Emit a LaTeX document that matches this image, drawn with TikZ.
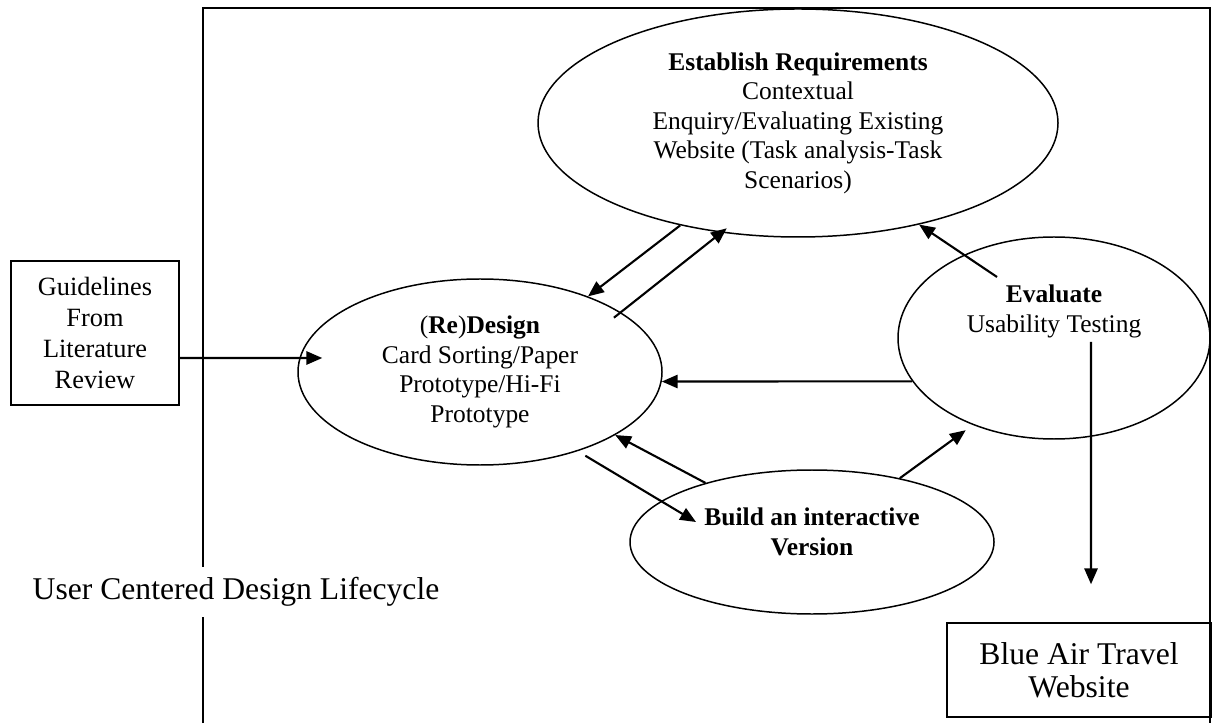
\documentclass[tikz,border=0pt]{standalone}
\usepackage{fontspec}
\setmainfont{Liberation Serif}
\usetikzlibrary{arrows.meta,positioning,calc,shapes.geometric}
\tikzset{
  stage/.style={draw,ellipse,line width=0.85pt,inner sep=0pt,align=center,font=\fontsize{14.5}{16.8}\selectfont},
  blk/.style={draw,rectangle,line width=0.85pt,inner sep=0pt,align=center},
  arr/.style={-{Triangle[length=9pt,width=7.5pt]},line width=1.2pt},
  lbl/.style={font=\fontsize{18}{19}\selectfont,align=center}
}

\begin{document}
\begin{tikzpicture}
  \useasboundingbox (0,0) rectangle (24.26,14.46);
  % Outer frame, open at the bottom
  \coordinate (frBL) at (4.06,0);
  \coordinate (frTL) at (4.06,14.30);
  \coordinate (frTR) at (24.20,14.30);
  \coordinate (frBR) at (24.20,0);
  \draw[line width=1.1pt] (frBL) -- (frTL) -- (frTR) -- (frBR);

  % Lifecycle stages
  \node[stage, minimum width=10.4cm, minimum height=4.56cm] (est) at (15.96,12.00)
    {\textbf{Establish Requirements}\\Contextual\\Enquiry/Evaluating Existing\\Website (Task analysis-Task\\Scenarios)};
  \node[stage, minimum width=7.28cm, minimum height=3.72cm] (des) at (9.60,7.02)
    {(\textbf{Re})\textbf{Design}\\Card Sorting/Paper\\Prototype/Hi-Fi\\Prototype};
  \node[stage, minimum width=7.28cm, minimum height=2.88cm, font=\fontsize{14.5}{16.8}\selectfont\bfseries] (bld) at (16.24,3.62)
    {Build an interactive\\Version\\[-0.3\baselineskip]\mbox{}};
  \node[stage, minimum width=6.24cm, minimum height=4.04cm] (eva) at (21.08,7.70)
    {\textbf{Evaluate}\\Usability Testing\\\mbox{}\\\mbox{}};

  % Input and output boxes
  \node[blk, minimum width=3.36cm, minimum height=2.88cm, font=\fontsize{15}{17.6}\selectfont] (gde) at (1.90,7.80)
    {Guidelines\\From\\Literature\\Review};
  \node[blk, lbl, minimum width=5.28cm, minimum height=1.88cm] (web) at (21.58,1.06)
    {Blue Air Travel\\Website};

  % Caption over the frame line
  \node[lbl, fill=white, minimum height=1cm, inner sep=2pt] (ucd) at (4.72,2.62) {User Centered Design Lifecycle};

  % Free arrow ends
  \coordinate (gdeOut) at ($(gde.east)+(0,-0.5)$);
  \coordinate (desIn) at ($(des.west)+(0.5,0.28)$);
  \coordinate (evaUp) at ($(eva.center)+(-1.14,1.22)$);
  \coordinate (evaDown) at ($(eva.center)+(0.74,-0.08)$);
  \coordinate (webTop) at ($(web.north)+(0.24,0.76)$);
  \coordinate (bldIn) at ($(bld.center)+(-2.32,0.40)$);

  % Iteration arrows
  \draw[arr] (gdeOut) -- (desIn);
  \draw[arr] (est.221) -- (des.35);
  \draw[arr, shorten <=-5pt, shorten >=-4pt] (des.23) -- (est.235);
  \draw[arr] (evaUp) -- (est.-40);
  \draw[arr] (eva.197) -- (des.-3);
  \draw[arr] (bld.151) -- (des.-25);
  \draw[arr, shorten <=5pt] (des.-39) -- (bldIn);
  \draw[arr, shorten >=5pt] (bld.36) -- (eva.227);
  \draw[arr] (evaDown) -- (webTop);

\end{tikzpicture}
\end{document}
